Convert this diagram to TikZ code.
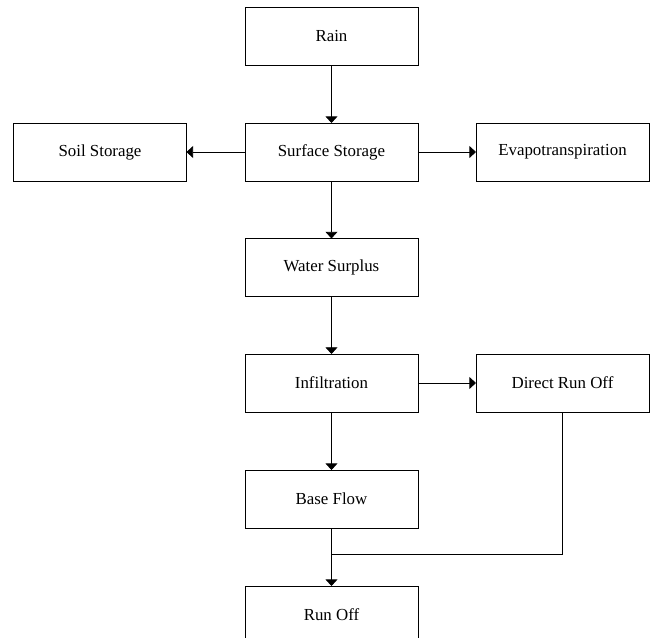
\documentclass[tikz,border=0pt]{standalone}
\usepackage{fontspec}
\setmainfont{Liberation Serif}
\usetikzlibrary{arrows.meta}

\begin{document}
\begin{tikzpicture}[
    box/.style={draw, rectangle, minimum width=4.577cm, minimum height=1.535cm, inner sep=0, outer sep=0, line width=0.6pt, font=\fontsize{12.7}{15}\selectfont},
    flow/.style={-{Triangle[width=9pt,length=5pt]}, line width=0.6pt}]
    \useasboundingbox (0,0) rectangle (17.358cm,-16.881cm);
    \node[box] (rain) at (8.771cm,-0.953cm) {Rain};
    \node[box] (soil) at (2.646cm,-4.022cm) {Soil Storage};
    \node[box] (surface) at (8.771cm,-4.022cm) {Surface Storage};
    \node[box] (evapo) at (14.884cm,-4.022cm) {Evapotranspiration};
    \node[box] (surplus) at (8.771cm,-7.078cm) {Water Surplus};
    \node[box] (infil) at (8.771cm,-10.134cm) {Infiltration};
    \node[box] (direct) at (14.884cm,-10.134cm) {Direct Run Off};
    \node[box] (base) at (8.771cm,-13.204cm) {Base Flow};
    \node[box] (runoff) at (8.771cm,-16.273cm) {Run Off};
    \coordinate (join) at (8.771cm,-14.658cm);
    \draw[flow] (rain) -- (surface);
    \draw[flow] (surface) -- (soil);
    \draw[flow] (surface) -- (evapo);
    \draw[flow] (surface) -- (surplus);
    \draw[flow] (surplus) -- (infil);
    \draw[flow] (infil) -- (direct);
    \draw[flow] (infil) -- (base);
    \draw[flow] (base) -- (runoff);
    \draw[line width=0.6pt] (direct) |- (join);
\end{tikzpicture}
\end{document}
